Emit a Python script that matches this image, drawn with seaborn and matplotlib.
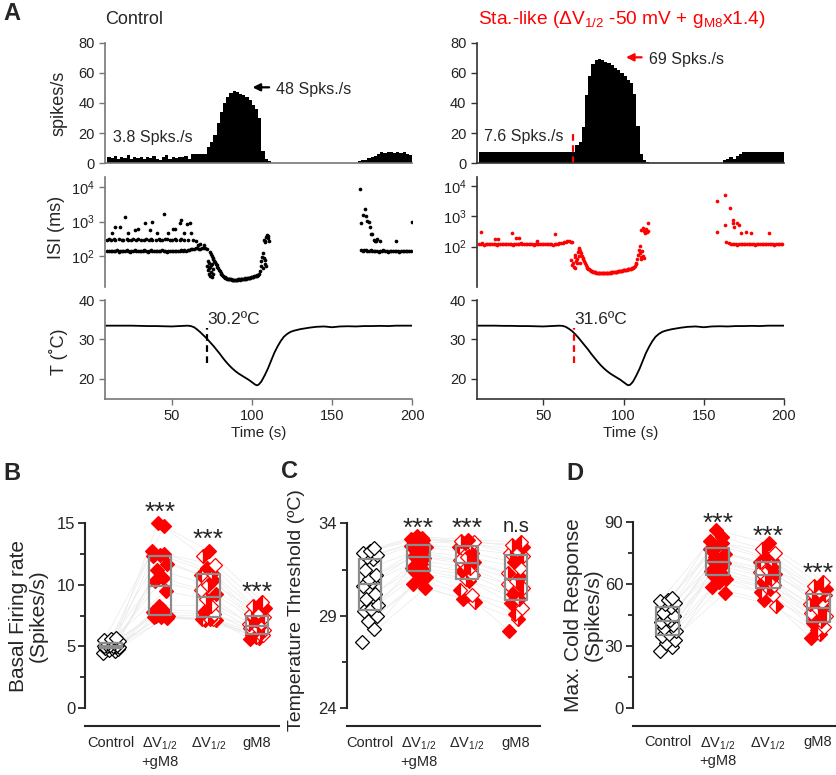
import numpy as np
import pandas as pd
import matplotlib
matplotlib.use("Agg")
import matplotlib.pyplot as plt
from matplotlib.ticker import NullLocator, AutoMinorLocator
import seaborn as sns

# ---------------- data: panel A ----------------
# firing rate, 2 s bins from 10 s to 200 s
BIN_START, BIN_END, BIN_W = 10, 200, 2
RATE_CTRL = [4.5, 3.5, 5, 3, 4.5, 3.5, 5.5, 3, 4, 3.5, 4, 3, 4.5, 3.5, 5, 3, 2.5, 4, 5.5, 3, 4.5, 3.5, 4.5, 4, 5, 3,
             6, 6.5, 6, 6.5, 6,
             11, 14, 19, 27, 34, 40, 44, 46.5, 48, 47, 46, 45, 44, 42, 39, 36, 30,
             8, 3, 1.5, 0.5,
             0, 0, 0, 0, 0, 0, 0, 0, 0, 0, 0, 0, 0, 0, 0, 0, 0, 0, 0, 0, 0, 0,
             0.5, 0, 0, 0,
             1.5, 2, 2.5, 3.5, 4.5, 5, 6.5, 7.5, 7, 7.5, 7.5, 7, 7.5, 7, 7.5, 6.5, 5.5]
RATE_STA = [7.5, 7.8, 7.5, 7.2, 7.6, 7.5, 7.8, 7.4, 7.5, 7.7, 7.5, 7.3, 7.6, 7.5, 7.8, 7.5, 7.4, 7.6, 7.5, 7.7,
            7.5, 7.3, 7.6, 7.5, 7.8, 7.4, 7.5, 7.6, 7.5, 7.7,
            12, 14, 24, 45, 58, 66, 68.5, 69, 68.5, 67.5, 66.5, 65, 63.5, 62, 60, 58, 55.5, 53, 46,
            25, 6, 2.5, 1,
            0, 0, 0, 0, 0, 0, 0, 0, 0, 0, 0, 0, 0, 0, 0, 0, 0, 0,
            0.5, 0, 0, 0, 0,
            2, 3, 4.5, 3, 5, 6.5,
            7.5, 7.8, 7.5, 7.6, 7.5, 7.7, 7.5, 7.4, 7.6, 7.5, 7.8, 7.5, 7.6]

# ISI scatter, control
ISI_CTRL_T = (list(range(10, 73))
              + [10, 11, 12, 14, 15, 17, 19, 20, 22, 23, 25, 26, 28, 29, 31, 33, 34, 36, 37, 38, 40, 42, 43,
                 44, 46, 47, 49, 50, 52, 53, 55, 56, 58, 60]
              + [12.6, 14.7, 18, 21, 23, 27, 29, 33.4, 36.5, 38, 40.6, 45, 48, 50.6, 52, 55, 56, 58, 59.3,
                 61.4, 61.8, 63.5, 65.5, 66.5, 68, 70]
              + [72, 72.5, 73, 73.5, 74, 74.5, 75, 75.5, 73, 74, 72.8, 75.2, 76, 74.8]
              + list(range(74, 105)) + [105, 105.5, 106, 106.5, 107]
              + [74.5, 75.5, 76.5, 77.5, 78.5, 79.5, 80.5, 81.5, 82.5, 83.5, 84.5, 85.5, 86.5, 87.5, 88.5,
                 89.5, 90.5, 91.5, 92.5, 93.5, 94.5, 95.5, 96.5, 97.5, 98.5, 99.5, 100.5, 101.5, 102.5,
                 103.5, 104.5]
              + [107.5, 108, 108.5, 109, 107.8, 108.3, 108.8, 109.3, 109.8, 110.3, 110.8, 107, 108]
              + [167.5, 168, 169, 170.5, 171, 172, 173, 173.5, 174, 175, 176, 176.5, 177.5, 178, 180,
                 190, 199.7]
              + list(range(168, 200)))
ISI_CTRL_MS = ([140, 138, 145, 136, 142, 139, 147, 135, 141, 144, 137, 140, 146, 138, 133, 142, 139, 148,
                136, 141, 143, 137, 140, 150, 138, 135, 142, 146, 139, 137, 141, 144, 136, 140, 147, 138,
                142, 135, 139, 145, 141, 137, 143, 139, 136, 140, 148, 142, 150, 145, 155, 152, 158, 162,
                165, 170, 168, 160, 165, 172, 168, 175, 160]
               + [300, 310, 295, 305, 290, 315, 300, 295, 310, 300, 285, 305, 300, 320, 295, 300, 310, 290,
                  305, 300, 295, 310, 300, 290, 305, 315, 300, 295, 305, 300, 290, 310, 300, 295]
               + [457, 714, 714, 1400, 457, 570, 600, 890, 570, 1000, 457, 1630, 457, 600, 600, 890, 1120,
                  457, 855, 890, 457, 290, 280, 210, 220, 205]
               + [52, 38, 30, 45, 27, 34, 60, 42, 62, 48, 70, 25, 30, 55]
               + [130, 100, 80, 65, 55, 44, 36, 30, 26, 24, 23, 22, 22, 21, 20, 20, 20, 20.5, 21, 21, 21.5,
                  22, 22, 22.5, 23, 23.5, 24, 25, 26, 27, 29, 36, 50, 70, 95, 120]
               + [115, 88, 72, 60, 48, 40, 33, 28, 25, 23.5, 22, 21, 21.5, 20.5, 19.5, 20.5, 19.5, 21,
                  20.5, 22, 21, 22.5, 21.5, 23, 22.5, 24, 24.5, 25.5, 27, 28, 31]
               + [90, 60, 75, 50, 300, 260, 350, 400, 330, 380, 280, 45, 280]
               + [8700, 900, 1550, 2300, 1500, 1050, 950, 700, 430, 430, 300, 270, 270, 320, 280, 280, 1000]
               + [150, 145, 148, 152, 140, 145, 150, 140, 138, 145, 140, 135, 142, 138, 146, 137, 141, 135,
                  143, 139, 136, 140, 144, 138, 135, 141, 139, 137, 143, 136, 140, 142])

# ISI scatter, Sta.-like
ISI_STA_T = (list(range(10, 69))
             + [11, 30.5, 33, 35, 46, 57, 20, 22]
             + [67.5, 68, 69, 70, 70.5, 71, 71.5, 72, 72.5, 73, 69.5, 68.5, 70, 71]
             + [72, 72.5, 73, 73.5, 74, 74.5, 75, 75.5, 76, 76.5, 77, 77.5, 78, 78.5, 79, 79.5]
             + list(range(80, 108)) + [107.5, 108, 108.5, 109, 109.5, 110]
             + [80.5, 81.5, 82.5, 83.5, 84.5, 85.5, 86.5, 87.5, 88.5, 89.5, 90.5, 91.5, 92.5, 93.5, 94.5,
                95.5, 96.5, 97.5, 98.5, 99.5, 100.5, 101.5, 102.5, 103.5, 104.5, 105.5, 106.5]
             + [110.5, 111, 111.5, 112, 111, 112, 113, 114, 114.5, 115, 115.5, 113.5, 112.5, 110.8]
             + [158, 158.5, 163.5, 163.5, 164, 166.5, 168.5, 168.5, 169, 171, 172, 173, 176.5, 179.5, 190.5]
             + list(range(166, 200)))
ISI_STA_MS = ([125, 120, 128, 118, 123, 126, 119, 122, 127, 121, 124, 118, 125, 122, 120, 127, 123, 119,
               124, 121, 126, 118, 122, 125, 120, 123, 128, 121, 119, 124, 122, 126, 120, 123, 118, 125,
               121, 127, 122, 119, 124, 120, 126, 123, 121, 125, 118, 122, 127, 124, 130, 135, 128, 138,
               145, 150, 155, 148, 140]
              + [296, 275, 200, 195, 158, 260, 180, 185]
              + [36, 25, 22, 55, 33, 40, 65, 85, 50, 30, 45, 30, 20, 28]
              + [90, 80, 70, 60, 50, 44, 38, 33, 28, 25, 22, 20.5, 19, 18, 17, 16.3]
              + [15.5, 15, 14.5, 14, 13.6, 13.4, 13.3, 13.3, 13.3, 13.4, 13.5, 13.7, 14, 14.2, 14.5, 14.8,
                 15.1, 15.5, 15.8, 16.2, 16.6, 17, 17.5, 18, 18.7, 19.3, 20.5, 23, 26, 30, 38, 55, 78, 105]
              + [15.2, 14.7, 14.2, 13.8, 13.5, 13.3, 13.2, 13.4, 13.3, 13.5, 13.6, 13.8, 14.1, 14.4, 14.6,
                 15, 15.3, 15.6, 16, 16.4, 16.8, 17.2, 17.7, 18.3, 19, 19.8, 21.5]
              + [60, 45, 70, 50, 350, 400, 320, 380, 300, 330, 620, 280, 42, 38]
              + [3300, 310, 5000, 520, 145, 1850, 760, 590, 450, 590, 520, 290, 300, 275, 275]
              + [128, 124, 120, 126, 122, 118, 125, 121, 127, 123, 119, 124, 122, 126, 120, 123, 118, 125,
                 121, 127, 122, 119, 124, 120, 126, 123, 121, 125, 118, 122, 127, 124, 120, 123])

# bath temperature
TEMP_T = [9, 15, 20, 25, 30, 35, 40, 45, 50, 55, 60, 62, 64, 66, 68, 70, 72, 74, 76, 78, 80, 82, 84, 86, 88,
          90, 92, 94, 96, 98, 100, 102, 103, 104, 105, 106, 108, 110, 112, 114, 116, 118, 120, 122, 124,
          126, 128, 130, 133, 136, 140, 145, 150, 155, 160, 165, 170, 175, 180, 185, 190, 195, 200]
TEMP_CTRL = [33.5, 33.5, 33.5, 33.5, 33.45, 33.4, 33.4, 33.35, 33.3, 33.4, 33.5, 33.4, 33.1, 32.5, 31.8,
             31.0, 30.2, 29.3, 28.4, 27.4, 26.4, 25.3, 24.3, 23.4, 22.6, 21.9, 21.3, 20.8, 20.3, 19.8,
             19.2, 18.6, 18.4, 18.5, 18.9, 19.4, 20.9, 22.6, 24.6, 26.6, 28.2, 29.6, 30.7, 31.4, 31.9,
             32.2, 32.4, 32.6, 32.8, 33.0, 33.2, 33.3, 33.1, 33.3, 33.35, 33.3, 33.4, 33.4, 33.45, 33.4,
             33.5, 33.5, 33.5]
TEMP_STA = [33.5, 33.5, 33.5, 33.45, 33.45, 33.4, 33.4, 33.35, 33.3, 33.4, 33.5, 33.45, 33.2, 32.7, 32.1,
            31.3, 30.4, 29.4, 28.4, 27.4, 26.3, 25.3, 24.3, 23.4, 22.6, 21.9, 21.3, 20.8, 20.3, 19.8,
            19.2, 18.6, 18.4, 18.5, 18.9, 19.4, 20.9, 22.6, 24.6, 26.6, 28.2, 29.6, 30.7, 31.4, 31.9,
            32.2, 32.4, 32.6, 32.8, 33.0, 33.2, 33.3, 33.1, 33.3, 33.35, 33.3, 33.4, 33.4, 33.45, 33.4,
            33.5, 33.5, 33.5]
THR_T_CTRL, THR_T_STA = 72, 69.2

# ---------------- data: panels B-D (20 model cells) ----------------
CONDS = ["Control", "dV+gM8", "dV", "gM8"]
COND_LABELS = ["Control", "ΔV$_{1/2}$\n+gM8", "ΔV$_{1/2}$", "gM8"]

BASAL = {
    "Control": [4.5, 4.6, 4.7, 4.8, 4.9, 4.9, 4.95, 5.0, 5.0, 5.05, 5.05, 5.1, 5.15, 5.2, 5.3, 5.3, 5.4, 5.5, 5.6, 5.7],
    "dV+gM8": [7.3, 7.35, 7.4, 7.45, 7.5, 7.6, 7.8, 8.0, 8.3, 9.5, 10.3, 10.5, 11.2, 11.7, 12.3, 12.4, 12.5, 12.7, 14.7, 15.0],
    "dV": [7.1, 7.15, 7.2, 7.2, 7.25, 7.4, 7.6, 7.8, 8.3, 8.8, 9.2, 9.6, 10.0, 10.4, 10.8, 10.9, 11.3, 11.6, 12.3, 12.7],
    "gM8": [5.6, 5.7, 5.8, 5.9, 5.9, 6.0, 6.2, 6.3, 6.5, 6.6, 6.7, 6.8, 6.9, 7.1, 7.4, 7.6, 7.8, 8.1, 8.3, 8.6],
}
THRESH = {
    "Control": [27.6, 28.3, 28.7, 29.0, 29.25, 29.35, 29.6, 29.9, 30.2, 30.6, 30.8, 31.0, 31.2, 31.5, 32.05, 32.2, 32.3, 32.4, 32.5, 32.65],
    "dV+gM8": [30.5, 30.7, 30.9, 31.1, 31.35, 31.45, 31.6, 31.8, 32.0, 32.15, 32.25, 32.4, 32.5, 32.7, 32.8, 33.0, 33.1, 33.15, 33.2, 33.3],
    "dV": [29.75, 29.9, 30.1, 30.4, 30.9, 31.0, 31.2, 31.4, 31.6, 31.8, 31.9, 32.0, 32.2, 32.4, 32.7, 32.9, 32.95, 33.0, 33.05, 33.1],
    "gM8": [28.2, 28.8, 29.1, 29.4, 29.7, 29.9, 30.2, 30.5, 30.7, 30.9, 31.1, 31.3, 31.6, 31.9, 32.25, 32.4, 32.55, 32.7, 32.85, 33.0],
}
MAXCOLD = {
    "Control": [27.6, 29.5, 31.5, 33.0, 34.5, 35.5, 37.0, 38.5, 40.0, 41.5, 42.3, 43.5, 44.5, 46.0, 48.5, 50.0, 50.5, 51.5, 52.2, 52.9],
    "dV+gM8": [55.3, 58.5, 61.0, 62.5, 63.6, 64.2, 66.0, 67.5, 69.0, 70.2, 71.0, 72.0, 73.0, 74.5, 77.0, 78.5, 79.5, 80.5, 82.5, 86.0],
    "dV": [49.3, 52.0, 54.5, 56.0, 57.6, 58.3, 59.5, 61.0, 62.5, 63.8, 64.6, 65.5, 66.5, 68.0, 70.4, 71.5, 73.0, 75.0, 77.0, 79.5],
    "gM8": [33.6, 35.5, 37.5, 39.0, 41.0, 41.8, 43.0, 44.5, 46.0, 48.0, 48.8, 50.0, 51.0, 52.5, 54.7, 55.5, 56.5, 57.5, 59.0, 61.0],
}
SIG_B = {"dV+gM8": ("***", 15.8), "dV": ("***", 13.6), "gM8": ("***", 9.3)}
SIG_C = {"dV+gM8": ("***", 33.7), "dV": ("***", 33.7), "gM8": ("n.s", 33.85)}
SIG_D = {"dV+gM8": ("***", 89.0), "dV": ("***", 82.8), "gM8": ("***", 65.0)}

# ---------------- style ----------------
RED = "#ff0000"
GREY = "#8c8c8c"
JITTER = [-0.16, 0.08, -0.04, 0.14, -0.12, 0.02, 0.16, -0.08, 0.1, -0.14,
          0.04, -0.02, 0.12, -0.1, 0.06, -0.06, 0.15, -0.15, 0.0, 0.09]
FILLS = {
    "Control": ["open"] * 20,
    "dV+gM8": ["full"] * 20,
    "dV": ["right", "full", "open", "left", "full", "right", "open", "full", "left", "right",
           "full", "open", "right", "full", "left", "right", "full", "open", "right", "full"],
    "gM8": ["full", "right", "left", "open", "full", "right", "full", "left", "open", "right",
            "full", "right", "open", "full", "left", "right", "open", "full", "right", "left"],
}

sns.set_style("ticks")
plt.rcParams["font.family"] = ["Liberation Sans", "DejaVu Sans"]
plt.rcParams["mathtext.fontset"] = "custom"
plt.rcParams["mathtext.rm"] = "Liberation Sans"
plt.rcParams["mathtext.it"] = "Liberation Sans:italic"
plt.rcParams["mathtext.default"] = "regular"
plt.rcParams["axes.linewidth"] = 1.2

W, H = 837, 775
fig = plt.figure(figsize=(W / 100, H / 100), dpi=100)


def rect(x0, y0, x1, y1):
    return [x0 / W, 1 - y1 / H, (x1 - x0) / W, (y1 - y0) / H]


def trace_axes(ax, spine_color):
    sns.despine(ax=ax)
    for s in ("left", "bottom"):
        ax.spines[s].set_color(spine_color)
    ax.tick_params(axis="both", colors="#222222", labelsize=10.5, length=4, width=1, color=spine_color)
    ax.set_xlim(8.5, 200)


# ---------- panel A ----------
cols = [(105, "#777777", RATE_CTRL, ISI_CTRL_T, ISI_CTRL_MS, TEMP_CTRL, THR_T_CTRL, "k", (1.09, 4.31)),
        (476.7, "#333333", RATE_STA, ISI_STA_T, ISI_STA_MS, TEMP_STA, THR_T_STA, RED, (0.66, 4.31))]
for ci, (x0, sc, rate, it, ims, temp, thr, dotc, ylog) in enumerate(cols):
    x1 = x0 + 307.3
    # firing rate histogram
    ax = fig.add_axes(rect(x0, 42.7, x1, 163.3))
    hist_df = pd.DataFrame({"t": np.arange(BIN_START, BIN_END, BIN_W) + BIN_W / 2, "rate": rate})
    sns.histplot(data=hist_df, x="t", weights="rate", binwidth=BIN_W, binrange=(BIN_START, BIN_END),
                 element="step", fill=True, color="black", alpha=1, linewidth=0, ax=ax)
    trace_axes(ax, sc)
    ax.set_ylim(0, 80)
    ax.set_yticks([0, 20, 40, 60, 80])
    ax.set_xticks([])
    ax.set_xlabel("")
    ax.set_ylabel("spikes/s" if ci == 0 else "", fontsize=13)
    if ci == 0:
        ax.yaxis.set_label_coords(-0.122, 0.5)
        ax.text(13.2, 17, "3.8 Spks./s", fontsize=11.5, va="center")
        ax.annotate("", xy=(98.7, 50.4), xytext=(112.5, 50.4),
                    arrowprops=dict(arrowstyle="-|>", color="k", lw=1.6, mutation_scale=11))
        ax.text(115.3, 48.8, "48 Spks./s", fontsize=11.5, va="center")
    else:
        ax.text(13.1, 17.7, "7.6 Spks./s", fontsize=11.5, va="center")
        ax.plot([thr - 0.4, thr - 0.4], [0, 20], color=RED, lw=1.6, ls=(0, (3, 2)))
        ax.annotate("", xy=(99.8, 70.3), xytext=(113, 70.3),
                    arrowprops=dict(arrowstyle="-|>", color=RED, lw=1.6, mutation_scale=11))
        ax.text(116, 68.6, "69 Spks./s", fontsize=11.5, va="center")

    # ISI
    ax = fig.add_axes(rect(x0, 176.7, x1, 287.3))
    isi_df = pd.DataFrame({"t": it, "isi": ims})
    sns.scatterplot(data=isi_df, x="t", y="isi", s=7, color=dotc, linewidth=0, ax=ax)
    ax.set_yscale("log")
    trace_axes(ax, sc)
    ax.spines["bottom"].set_visible(False)
    ax.set_ylim(10 ** ylog[0], 10 ** ylog[1])
    ax.set_yticks([1e2, 1e3, 1e4])
    ax.yaxis.set_minor_locator(NullLocator())
    ax.set_xticks([])
    ax.set_xlabel("")
    ax.set_ylabel("ISI (ms)" if ci == 0 else "", fontsize=13)
    ax.yaxis.set_label_coords(-0.13, 0.54)

    # temperature
    ax = fig.add_axes(rect(x0, 300, x1, 398.7))
    temp_df = pd.DataFrame({"t": TEMP_T, "T": temp})
    sns.lineplot(data=temp_df, x="t", y="T", color="black", lw=1.3, ax=ax)
    trace_axes(ax, sc)
    ax.set_ylim(15, 40)
    ax.set_yticks([20, 30, 40])
    ax.set_xticks([50, 100, 150, 200])
    ax.plot([thr, thr], [24.1, 33.0], color="k" if ci == 0 else RED, lw=1.6, ls=(0, (3, 2)))
    ax.text(thr + 0.3, 35, "30.2ºC" if ci == 0 else "31.6ºC", fontsize=12.5, va="center")
    ax.set_xlabel("Time (s)", fontsize=11, labelpad=2)
    ax.set_ylabel("T (˚C)" if ci == 0 else "", fontsize=13)
    ax.yaxis.set_label_coords(-0.122, 0.48)

fig.text(12 / W, 1 - 14 / H, "A", fontsize=17, fontweight="bold", ha="center", va="center")
fig.text(105 / W, 1 - 20 / H, "Control", fontsize=13, va="center")
fig.text(478 / W, 1 - 20 / H, "Sta.-like (ΔV$_{1/2}$ -50 mV + g$_{M8}$x1.4)", fontsize=13.8,
         color=RED, va="center")


# ---------- panels B-D ----------
def summary_panel(box, data, ylim, yticks, xlim, ylabel, lab_size, lab_xy, sig):
    ax = fig.add_axes(rect(*box))
    long = pd.DataFrame([(i, c, v) for c in CONDS for i, v in enumerate(data[c])],
                        columns=["cell", "cond", "value"])
    wide = long.pivot(index="cell", columns="cond", values="value")[CONDS]
    # paired lines
    for i, row in wide.iterrows():
        xs = [j + JITTER[(i + 3 * j) % 20] for j in range(4)]
        ax.plot(xs, row.values, color="#e8e8e8", lw=0.45, zorder=1, clip_on=False)
    # diamonds
    for j, c in enumerate(CONDS):
        col = "black" if c == "Control" else RED
        for i, v in enumerate(data[c]):
            fs = FILLS[c][i]
            kw = dict(marker="D", ms=6.8, mec=col, mew=0.9, ls="none", zorder=3, clip_on=False)
            if fs == "open":
                kw.update(mfc="white")
            elif fs == "full":
                kw.update(mfc=col)
            else:
                kw.update(fillstyle=fs, mfc=col, markerfacecoloralt="white")
            ax.plot(j + JITTER[(i + 3 * j) % 20], v, **kw)
    sns.boxplot(data=long, x="cond", y="value", order=CONDS, whis=0, showfliers=False,
                showcaps=False, fill=False, color=GREY, linewidth=1.6, width=0.46,
                whiskerprops=dict(linewidth=0), medianprops=dict(color=GREY, linewidth=1.6),
                zorder=4, ax=ax)
    for c, (txt, y) in sig.items():
        ax.text(CONDS.index(c), y, txt, ha="center", va="center", fontsize=19 if txt == "***" else 14.5)
    sns.despine(ax=ax)
    ax.spines["bottom"].set_position(("outward", 13))
    ax.spines["bottom"].set_linewidth(1.5)
    ax.spines["left"].set_linewidth(1.5)
    ax.set_xlim(*xlim)
    ax.set_ylim(*ylim)
    ax.set_yticks(yticks)
    ax.yaxis.set_minor_locator(AutoMinorLocator(2))
    ax.tick_params(axis="y", which="major", length=5, width=1.3, labelsize=12, pad=2)
    ax.tick_params(axis="y", which="minor", length=3.5, width=1.3)
    ax.set_xticks(range(4))
    ax.set_xticklabels(COND_LABELS)
    ax.tick_params(axis="x", length=0, labelsize=10.5, pad=7)
    ax.set_xlabel("")
    ax.set_ylabel(ylabel, fontsize=lab_size, linespacing=1.05)
    ax.yaxis.set_label_coords(*lab_xy)
    return ax


summary_panel((85, 522.7, 279, 708.3), BASAL, (0, 15), [0, 5, 10, 15], (-0.54, 3.45),
              "Basal Firing rate\n(Spikes/s)", 15, (-0.19, 0.5), SIG_B)
summary_panel((346.7, 523.3, 540, 708.3), THRESH, (24, 34), [24, 29, 34], (-0.48, 3.5),
              "Temperature Threshold (ºC)", 14, (-0.216, 0.53), SIG_C)
summary_panel((633, 521.7, 836.7, 707.7), MAXCOLD, (0, 90), [0, 30, 60, 90], (-0.69, 3.37),
              "Max. Cold Response\n(Spikes/s)", 15, (-0.147, 0.5), SIG_D)

for x, y, lab in [(12, 474, "B"), (289, 472, "C"), (575, 474, "D")]:
    fig.text(x / W, 1 - y / H, lab, fontsize=17, fontweight="bold", ha="center", va="center")

fig.savefig("out.png", dpi=100)
